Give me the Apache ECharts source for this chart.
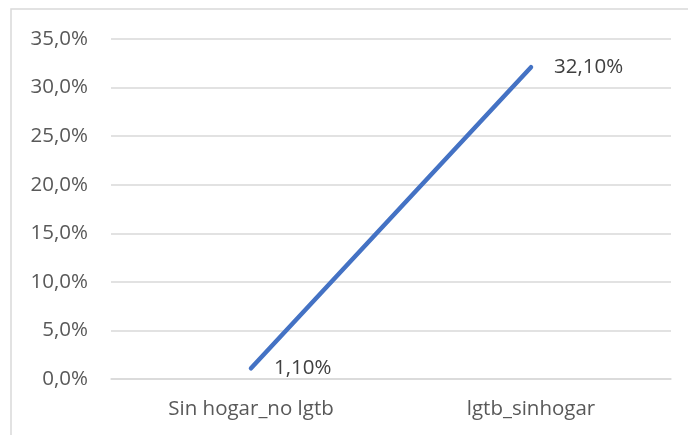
<!DOCTYPE html>
<html><head><meta charset="utf-8">
<script src="https://cdn.jsdelivr.net/npm/echarts@6/dist/echarts.min.js"></script>
<style>html,body{margin:0;padding:0;background:#fff}#c{width:688px;height:435px}</style>
</head><body><div id="c"></div>
<script>
var categories = ['Sin hogar_no lgtb', 'lgtb_sinhogar'];
var values = [1.1, 32.1];
var chart = echarts.init(document.getElementById('c'), null, {renderer: 'canvas'});
var font = '"Open Sans", sans-serif';
chart.setOption({
  animation: false,
  grid: {left: 111, right: 17, top: 39, bottom: 56},
  graphic: [{type: 'rect', shape: {x: 11, y: 9, width: 700, height: 440}, style: {fill: 'none', stroke: '#d9d9d9', lineWidth: 1.5}, silent: true}],
  xAxis: {type: 'category', data: categories, boundaryGap: true,
    axisLine: {show: true, lineStyle: {color: '#d9d9d9', width: 1.5}},
    axisTick: {show: false},
    axisLabel: {color: '#595959', fontSize: 20.5, fontFamily: font, margin: 20}},
  yAxis: {type: 'value', min: 0, max: 35, interval: 5,
    axisLine: {show: false}, axisTick: {show: false},
    splitLine: {lineStyle: {color: '#d9d9d9', width: 1.5}},
    axisLabel: {color: '#595959', fontSize: 20.5, fontFamily: font, margin: 23,
      formatter: function (v) { return v.toFixed(1).replace('.', ',') + '%'; }}},
  series: [{type: 'line', data: values, symbol: 'circle', symbolSize: 2, showSymbol: true,
    itemStyle: {color: '#4472C4'},
    lineStyle: {color: '#4472C4', width: 4.5, cap: 'round'},
    label: {show: true, position: 'right', distance: 22, color: '#404040', fontSize: 20.5, fontFamily: font,
      formatter: function (p) { return p.value.toFixed(2).replace('.', ',') + '%'; }}}]
});
</script></body></html>
